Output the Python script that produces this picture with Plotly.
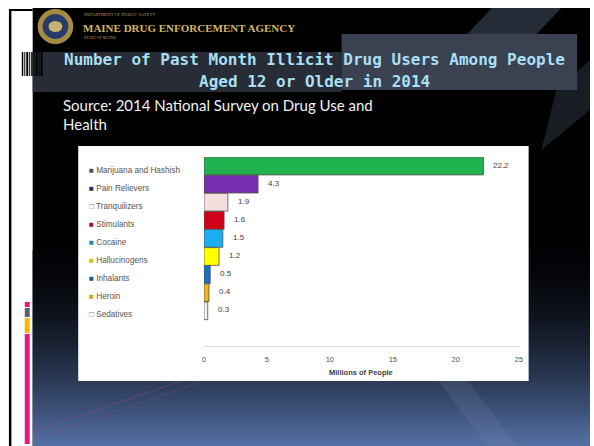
import plotly.graph_objects as go

# ---------------- data ----------------
categories = ["Marijuana and Hashish", "Pain Relievers", "Tranquilizers", "Stimulants",
              "Cocaine", "Hallucinogens", "Inhalants", "Heroin", "Sedatives"]
values = [22.2, 4.3, 1.9, 1.6, 1.5, 1.2, 0.5, 0.4, 0.3]
value_labels = ["22.2", "4.3", "1.9", "1.6", "1.5", "1.2", "0.5", "0.4", "0.3"]
bar_colors = ["#1fb24e", "#7a2fb0", "#f4dede", "#d0021b", "#1aaef0",
              "#ffff00", "#1a6fc0", "#f2b21a", "#f0f0f0"]
legend_marks = ["■", "■", "□", "■", "■", "■", "■", "■", "□"]
legend_colors = ["#4a5a4a", "#3a2a70", "#808080", "#a0102a", "#1a8ab0",
                 "#c8c800", "#1a5a9a", "#d8a020", "#909090"]
x_ticks = [0, 5, 10, 15, 20, 25]
x_title = "Millions of People"
slide_title_1 = "Number of Past Month Illicit Drug Users Among People"
slide_title_2 = "Aged 12 or Older in 2014"
source_1 = "Source: 2014 National Survey on Drug Use and"
source_2 = "Health"

W, H = 594, 446


def px(x):
    return x / W


def py(y):
    return 1 - y / H


def rect(x0, y0, x1, y1, color, **kw):
    d = dict(type="rect", xref="paper", yref="paper", x0=px(x0), x1=px(x1),
             y0=py(y1), y1=py(y0), fillcolor=color, line=dict(width=0), layer="below")
    d.update(kw)
    return d


def lerp(c0, c1, t):
    a = [int(c0[i:i + 2], 16) for i in (1, 3, 5)]
    b = [int(c1[i:i + 2], 16) for i in (1, 3, 5)]
    return "#" + "".join("%02x" % round(a[k] + (b[k] - a[k]) * t) for k in range(3))


shapes = []
# slide background
shapes.append(rect(31, 8, W, H, "#000000"))
y = 250
while y < H:
    t = ((y - 250) / 196) ** 1.7
    shapes.append(rect(31, y, W, min(y + 4, H), lerp("#020306", "#5674aa", min(t, 1))))
    y += 4
# decorative diagonals
shapes.append(dict(type="path", xref="paper", yref="paper", layer="below",
                   path="M %f %f L %f %f L %f %f L %f %f Z" % (
                       px(440), py(380), px(470), py(380), px(520), py(446), px(490), py(446)),
                   fillcolor="rgba(120,140,180,0.18)", line=dict(width=0)))
shapes.append(dict(type="path", xref="paper", yref="paper", layer="below",
                   path="M %f %f L %f %f L %f %f L %f %f Z" % (
                       px(495), py(8), px(565), py(8), px(540), py(34), px(470), py(34)),
                   fillcolor="rgba(70,80,100,0.55)", line=dict(width=0)))
shapes.append(dict(type="path", xref="paper", yref="paper", layer="below",
                   path="M %f %f L %f %f L %f %f L %f %f Z" % (
                       px(560), py(90), px(594), py(60), px(594), py(110), px(545), py(150)),
                   fillcolor="rgba(70,80,100,0.35)", line=dict(width=0)))
shapes.append(dict(type="line", xref="paper", yref="paper", layer="below",
                   x0=px(31), y0=py(432), x1=px(190), y1=py(378),
                   line=dict(color="rgba(150,70,130,0.45)", width=1)))
shapes.append(dict(type="line", xref="paper", yref="paper", layer="below",
                   x0=px(31), y0=py(440), x1=px(200), y1=py(382),
                   line=dict(color="rgba(150,70,130,0.35)", width=1)))
# title bands
shapes.append(rect(31, 52, 343, 92, "#272c37"))
shapes.append(rect(343, 34, 581, 90, "#3a4252"))
# left page decorations
shapes.append(rect(7, 10, 9.5, H, "#000000"))
shapes.append(rect(7, 9, 31, 11, "#000000"))
shapes.append(rect(23, 302, 28, 307, "#e8197d"))
shapes.append(rect(23, 308, 28, 317, "#596070"))
shapes.append(rect(23, 318, 28, 333, "#ffb400"))
shapes.append(rect(23, 334, 28, 444, "#e8197d"))
for a, b in [(20, 21.5), (22.5, 23.5), (24.5, 26.5), (27.5, 28.5), (29.5, 31),
             (32, 33), (34, 36), (37, 38), (39, 41)]:
    shapes.append(rect(a, 52, b, 76, "#000000"))
# logo
shapes.append(dict(type="circle", xref="paper", yref="paper", layer="below",
                   x0=px(36), x1=px(72), y0=py(44), y1=py(9),
                   fillcolor="#a48c44", line=dict(width=0)))
shapes.append(dict(type="circle", xref="paper", yref="paper", layer="below",
                   x0=px(41), x1=px(67), y0=py(39), y1=py(14),
                   fillcolor="#283a68", line=dict(width=0)))
shapes.append(dict(type="circle", xref="paper", yref="paper", layer="below",
                   x0=px(47), x1=px(61), y0=py(32), y1=py(21),
                   fillcolor="#c8b070", line=dict(width=0)))
# chart card
shapes.append(rect(77, 146, 532, 381, "#ffffff"))

fig = go.Figure()
fig.add_trace(go.Bar(
    x=values, y=categories, orientation="h",
    marker=dict(color=bar_colors, line=dict(color="#505050", width=0.8)),
    hoverinfo="x+y",
))

annotations = []
for cat, v, lab in zip(categories, values, value_labels):
    annotations.append(dict(x=v, y=cat, xref="x", yref="y", text=lab, showarrow=False,
                            xanchor="left", xshift=8, yshift=1,
                            font=dict(size=8, color="#404040", family="Liberation Sans")))
for cat, mk, mc in zip(categories, legend_marks, legend_colors):
    annotations.append(dict(x=px(86), y=cat, xref="paper", yref="y",
                            text="<span style='color:%s'>%s</span> %s" % (mc, mk, cat),
                            showarrow=False, xanchor="left", yshift=-4,
                            font=dict(size=8.2, color="#555555", family="Liberation Sans")))
annotations += [
    dict(x=px(316), y=py(59), xref="paper", yref="paper", text="<b>%s</b>" % slide_title_1,
         showarrow=False, xanchor="center", yanchor="middle",
         font=dict(size=16, color="#a9dff2", family="DejaVu Sans Mono")),
    dict(x=px(316), y=py(82), xref="paper", yref="paper", text="<b>%s</b>" % slide_title_2,
         showarrow=False, xanchor="center", yanchor="middle",
         font=dict(size=16, color="#a9dff2", family="DejaVu Sans Mono")),
    dict(x=px(60), y=py(105), xref="paper", yref="paper", text=source_1, showarrow=False,
         xanchor="left", yanchor="middle",
         font=dict(size=15, color="#f2f2f2", family="Lato")),
    dict(x=px(60), y=py(124), xref="paper", yref="paper", text=source_2, showarrow=False,
         xanchor="left", yanchor="middle",
         font=dict(size=15, color="#f2f2f2", family="Lato")),
    dict(x=px(81), y=py(15), xref="paper", yref="paper", text="DEPARTMENT OF PUBLIC SAFETY",
         showarrow=False, xanchor="left", yanchor="middle",
         font=dict(size=4.5, color="#b09a60", family="Liberation Serif")),
    dict(x=px(80), y=py(28), xref="paper", yref="paper", text="<b>MAINE DRUG ENFORCEMENT AGENCY</b>",
         showarrow=False, xanchor="left", yanchor="middle",
         font=dict(size=11, color="#d4b660", family="Liberation Serif")),
    dict(x=px(81), y=py(37), xref="paper", yref="paper", text="STATE OF MAINE",
         showarrow=False, xanchor="left", yanchor="middle",
         font=dict(size=4, color="#b09a60", family="Liberation Serif")),
    dict(x=px(363), y=py(372), xref="paper", yref="paper", text="<b>%s</b>" % x_title,
         showarrow=False, xanchor="center", yanchor="middle",
         font=dict(size=7.5, color="#404040", family="Liberation Sans")),
]

fig.update_layout(
    width=W, height=H, autosize=False,
    margin=dict(l=0, r=0, t=0, b=0, pad=0),
    paper_bgcolor="#ffffff", plot_bgcolor="rgba(0,0,0,0)",
    showlegend=False, bargap=0.02,
    shapes=shapes, annotations=annotations,
    xaxis=dict(domain=[px(204), px(522)], range=[0, 25], tickvals=x_ticks,
               showgrid=False, zeroline=False, showline=True, linecolor="#d9d9d9",
               linewidth=1, ticks="", ticklabelstandoff=6,
               tickfont=dict(size=7.5, color="#505050", family="Liberation Sans")),
    yaxis=dict(domain=[py(345.7), py(157)], type="category", categoryarray=categories,
               range=[9.93, -0.5], showticklabels=False, showgrid=False,
               zeroline=False, showline=False, ticks=""),
)

fig.write_html("out.html")
